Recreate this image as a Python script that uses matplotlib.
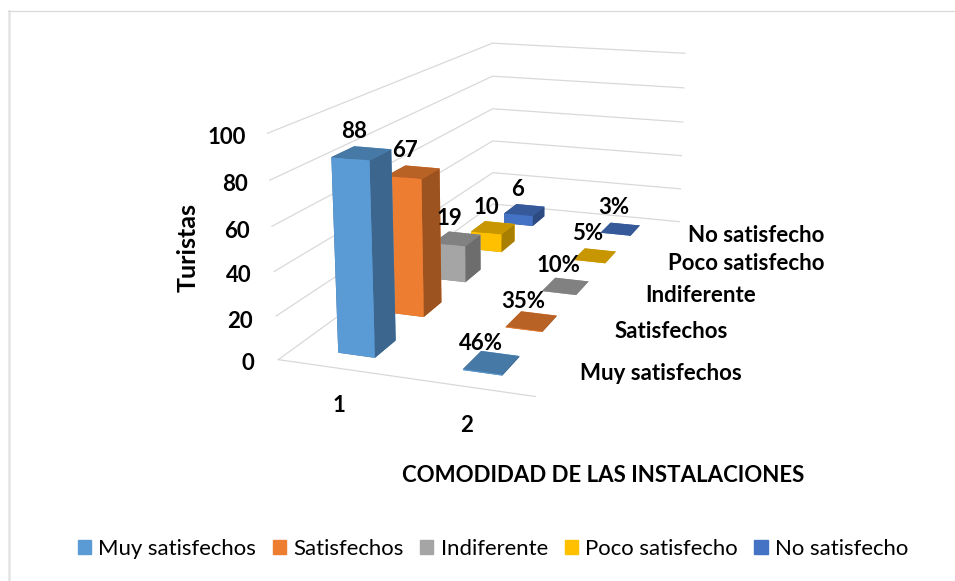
import numpy as np
import matplotlib
matplotlib.use("Agg")
import matplotlib.pyplot as plt

plt.rcParams['font.family'] = ['Lato', 'DejaVu Sans']

series = ['Muy satisfechos', 'Satisfechos', 'Indiferente', 'Poco satisfecho', 'No satisfecho']
colors = ['#5B9BD5', '#ED7D31', '#A5A5A5', '#FFC000', '#4472C4']
turistas = [88, 67, 19, 10, 6]
porcentaje = [46, 35, 10, 5, 3]
z_ticks = [0, 20, 40, 60, 80, 100]
x_labels = ['1', '2']

W, H = 955, 581
fig = plt.figure(figsize=(W / 100, H / 100), dpi=100)

# camera and box were fitted to the corners of the excel chart
ax = fig.add_axes([202.1 / W, 88.1 / H, 599.1 / W, 599.1 / H], projection='3d')
ax.set_xlim(0, 2)
ax.set_ylim(0, 5)
ax.set_zlim(0, 100)
ax.view_init(elev=14.589, azim=-70.4833)
ax.set_proj_type('persp', focal_length=0.4048)
ax.set_box_aspect((1, 2.2923, 0.8543))
ax.set_axis_off()
ax.computed_zorder = False

for z in z_ticks:
    ax.plot([0, 0, 2], [0, 5, 5], [z, z, z], color='#D9D9D9', lw=0.9, zorder=1)
ax.plot([0, 2], [0, 0], [0, 0], color='#D9D9D9', lw=0.9, zorder=1)

xa, xb, bw, y0, dy, bd = 0.356, 1.3581, 0.3017, 0.2938, 1.0017, 0.4066

def faces(c):
    rgb = np.array(matplotlib.colors.to_rgb(c))
    # bottom, top, front, back, left, right
    return [rgb * .78, rgb * .78, rgb, rgb, rgb * .66, rgb * .66]

for i in range(4, -1, -1):
    y = y0 + i * dy
    ax.bar3d(xa, y, 0, bw, bd, turistas[i], color=faces(colors[i]), shade=False, zorder=10 - i)
    ax.bar3d(xb, y, 0, bw, bd, porcentaje[i] / 100, color=faces(colors[i]), shade=False, zorder=10 - i)

def px_text(x, y, s, **kw):
    # +2 because lato sits a little high with va=center
    fig.text(x / W, 1 - (y + 2) / H, s, **kw)

bold = dict(fontsize=16, fontweight='bold', va='center')
val_pos = [(354, 130), (405, 149), (449, 216), (486, 205), (518, 187)]
pct_pos = [(481, 342), (523, 299), (558, 264), (588, 232), (614, 206)]
name_pos = [(580, 372, 'left'), (615, 329, 'left'), (645, 294, 'left'), (824, 262, 'right'), (824, 234, 'right')]
for i in range(5):
    px_text(*val_pos[i], str(turistas[i]), ha='center', **bold)
    px_text(*pct_pos[i], f'{porcentaje[i]}%', ha='center', **bold)
    px_text(name_pos[i][0], name_pos[i][1], series[i], ha=name_pos[i][2], **bold)
tick_pos = [(254, 362), (253, 319), (252, 274), (250, 229), (248, 182), (246, 135)]
for z, (tx, ty) in zip(z_ticks, tick_pos):
    px_text(tx, ty, str(z), ha='right', **bold)
px_text(339, 403, x_labels[0], ha='center', **bold)
px_text(467, 423, x_labels[1], ha='center', **bold)
px_text(188, 245, 'Turistas', rotation=90, ha='center', fontsize=18, fontweight='bold', va='center')
px_text(603, 474, 'COMODIDAD DE LAS INSTALACIONES', ha='center', **bold)

# only the top and left edges of the frame show in the screenshot
fig.add_artist(plt.Line2D([8.5 / W, 8.5 / W], [1 - 11 / H, 0], color='#E4E4E4', lw=1.8))
fig.add_artist(plt.Line2D([8 / W, 1], [1 - 11 / H, 1 - 11 / H], color='#D9D9D9', lw=0.9))

handles = [plt.Rectangle((0, 0), 1, 1, color=c) for c in colors]
fig.legend(handles, series, loc='center', ncol=5, frameon=False, fontsize=15.9,
           bbox_to_anchor=(493 / W, 1 - 549 / H), handlelength=0.6, handleheight=0.6,
           columnspacing=0.75, handletextpad=0.33)

fig.savefig('out.png', dpi=100)
